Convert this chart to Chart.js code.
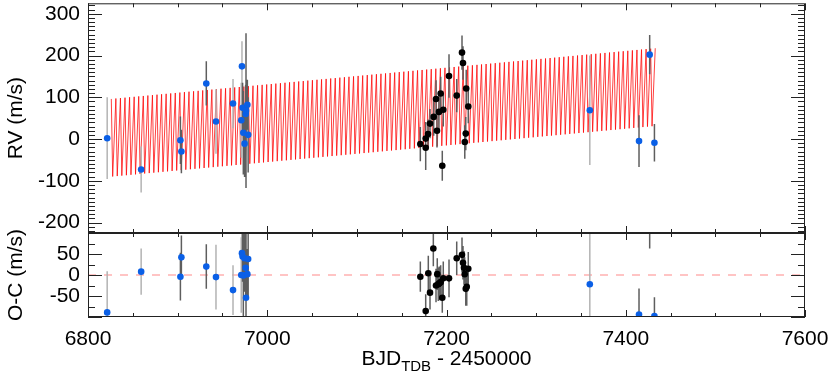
<!DOCTYPE html>
<html>
<head>
<meta charset="utf-8">
<script src="https://cdn.jsdelivr.net/npm/chart.js@4/dist/chart.umd.min.js"></script>
<style>
  html, body { margin: 0; padding: 0; background: #fff; }
  #wrap { position: relative; width: 830px; height: 377px; }
  #wrap canvas { position: absolute; left: 0; top: 0; }
</style>
</head>
<body>
<div id="wrap">
  <canvas id="rvChart" width="830" height="377"></canvas>
  <canvas id="ocChart" width="830" height="377"></canvas>
</div>
<script>
// Blue points with light grey error bars
const blueLightTime = [6821.4, 6859.3, 6942.8, 6961.8, 6971.0, 6971.8, 7359.9];
const blueLightRV   = [2, -73, 42, 85, 45, 174, 69];
const blueLightErr  = [98, 55, 77, 59, 90, 60, 131];
const blueLightOC   = [-89, 8, -5, -36, 0, 52, -22];

// Blue points with dark grey error bars
const blueDarkTime = [6903.1, 6904.2, 6932.0, 6972.5, 6973.3, 6974.7, 6975.9, 6976.3, 6977.8, 6978.7, 7414.8, 7426.7, 7432.0];
const blueDarkRV   = [-3, -30, 133, 75, 15, -11, 60, 68, 82, 10, -5, 202, -9];
const blueDarkErr  = [57, 52, 53, 60, 100, 80, 70, 185, 60, 90, 62, 47, 45];
const blueDarkOC   = [-4, 42, 20, 44, -1, 40, 17, -54, 2, 38, -94, 110, -98];

// Black points
const blackTime = [7170.8, 7176.8, 7176.8, 7179.4, 7181.6, 7185.7, 7188.3, 7189.4, 7191.6, 7193.5,
                   7195.3, 7196.4, 7202.8, 7211.4, 7217.3, 7218.4, 7220.4, 7221.5, 7222.0, 7224.3];
const blackRV   = [-12, 1, -21, 12, 37, 53, 96, 20, 65, 109, -64, 70, 151, 104, 207, 182, -7, 13, 121, 78];
const blackErr  = [41, 40, 53, 35, 35, 45, 45, 40, 45, 40, 36, 40, 52, 40, 41, 40, 40, 40, 45, 40];

// Black O-C residuals
const blackOCTime = [7170.8, 7176.8, 7179.7, 7181.6, 7185.3, 7188.3, 7189.7, 7190.8, 7191.9, 7193.5, 7195.3,
                     7196.4, 7202.8, 7211.4, 7217.3, 7218.4, 7219.5, 7220.3, 7221.5, 7222.6, 7224.3];
const blackOC    = [-4, -86, 4, -42, 63, -25, 2, -22, -20, -17, -54, -8, -8, 40, 48, 29, 17, 2, -33, -28, 15];
const blackOCErr = [36, 40, 42, 40, 42, 40, 38, 40, 40, 40, 36, 40, 45, 40, 41, 40, 40, 40, 40, 45, 40];

// Model parameters
const modelStart = 6826;
const modelEnd = 7433;
const modelPeriod = 5.1;
const modelFall = 0.3;     // fraction of the period spent going from peak to trough
const modelK = 93;
const modelGamma = 3;
const modelSlope = 0.2;

const xMin = 6800, xMax = 7600;
const FONT = '"Liberation Sans", Arial, Helvetica, sans-serif';

function pts(t, v) { return t.map((tt, i) => ({ x: tt, y: v[i] })); }

const modelPoints = [];
for (let c = 0; modelStart + c * modelPeriod <= modelEnd; c++) {
  const tPeak = modelStart + c * modelPeriod;
  const tLow = tPeak + modelFall * modelPeriod;
  modelPoints.push({ x: tPeak, y: modelGamma + modelSlope * (tPeak - modelStart) + modelK });
  if (tLow <= modelEnd) {
    modelPoints.push({ x: tLow, y: modelGamma + modelSlope * (tLow - modelStart) - modelK });
  }
}

// error bars drawn right after the background dataset (index 0)
const errorBars = {
  id: 'errorBars',
  afterDatasetDraw(chart, args) {
    if (args.index !== 0) return;
    const { ctx, chartArea: a, scales: { x, y } } = chart;
    ctx.save();
    ctx.beginPath();
    ctx.rect(a.left, a.top, a.right - a.left, a.bottom - a.top);
    ctx.clip();
    ctx.lineWidth = 1.5;
    chart.data.datasets.forEach(ds => {
      if (!ds.errors) return;
      ctx.strokeStyle = ds.errorColor;
      ctx.beginPath();
      ds.data.forEach((p, i) => {
        const px = x.getPixelForValue(p.x);
        ctx.moveTo(px, y.getPixelForValue(p.y + ds.errors[i]));
        ctx.lineTo(px, y.getPixelForValue(p.y - ds.errors[i]));
      });
      ctx.stroke();
    });
    ctx.restore();
  }
};

// box with inward ticks on all four sides
const frame = {
  id: 'frame',
  afterDraw(chart, args, opts) {
    const { ctx, chartArea: a, scales: { x, y } } = chart;
    ctx.save();
    ctx.strokeStyle = '#222';
    ctx.lineWidth = 1;
    ctx.strokeRect(a.left + 0.5, a.top + 0.5, a.right - a.left - 1, a.bottom - a.top - 1);
    ctx.beginPath();
    const k0 = Math.ceil(y.min / opts.yMinor), k1 = Math.floor(y.max / opts.yMinor);
    for (let k = k0; k <= k1; k++) {
      const v = k * opts.yMinor;
      const py = Math.round(y.getPixelForValue(v)) + 0.5;
      const len = v % opts.yMajor === 0 ? 14 : 7;
      ctx.moveTo(a.left, py); ctx.lineTo(a.left + len, py);
      ctx.moveTo(a.right, py); ctx.lineTo(a.right - len, py);
    }
    for (let v = xMin; v <= xMax; v += 50) {
      const px = Math.round(x.getPixelForValue(v)) + 0.5;
      const len = v % 200 === 0 ? 7 : 4;
      ctx.moveTo(px, a.top); ctx.lineTo(px, a.top + len);
      ctx.moveTo(px, a.bottom); ctx.lineTo(px, a.bottom - len);
    }
    ctx.stroke();
    ctx.restore();
  }
};

// x title with subscript
const xTitle = {
  id: 'xTitle',
  afterDraw(chart) {
    const { ctx, chartArea: a } = chart;
    const main = 'BJD', sub = 'TDB', rest = ' - 2450000';
    ctx.save();
    ctx.fillStyle = '#000';
    ctx.textBaseline = 'alphabetic';
    ctx.textAlign = 'left';
    ctx.font = '21px ' + FONT;
    const w1 = ctx.measureText(main).width, w3 = ctx.measureText(rest).width;
    ctx.font = '15px ' + FONT;
    const w2 = ctx.measureText(sub).width;
    let xx = (a.left + a.right) / 2 - (w1 + w2 + w3) / 2;
    const base = 365;
    ctx.font = '21px ' + FONT;
    ctx.fillText(main, xx, base);
    xx += w1;
    ctx.font = '15px ' + FONT;
    ctx.fillText(sub, xx, base + 6);
    xx += w2;
    ctx.font = '21px ' + FONT;
    ctx.fillText(rest, xx, base);
    ctx.restore();
  }
};

function scatterSet(data, color, errors, errorColor) {
  return {
    type: 'scatter', data: data, errors: errors, errorColor: errorColor,
    backgroundColor: color, borderWidth: 0, pointRadius: 3.3, pointHoverRadius: 3.3, order: 0
  };
}

function yAxis(min, max, step, title, labelFn) {
  return {
    type: 'linear', min: min, max: max,
    grid: { display: false, drawTicks: false },
    border: { display: false },
    ticks: { stepSize: step, includeBounds: false, autoSkip: false, padding: 8, color: '#000', font: { family: FONT, size: 21 }, callback: labelFn },
    title: { display: true, text: title, color: '#000', font: { family: FONT, size: 21 }, padding: { top: 4, bottom: 0 } },
    afterFit(scale) { scale.width = 88; scale.paddingTop = 0; scale.paddingBottom = 0; }
  };
}

const common = {
  responsive: false,
  animation: false,
  events: [],
  plugins: { legend: { display: false }, tooltip: { enabled: false } }
};

new Chart(document.getElementById('rvChart'), {
  type: 'scatter',
  data: {
    datasets: [
      { type: 'line', data: modelPoints, borderColor: 'rgba(255,0,0,0.75)', borderWidth: 1, pointRadius: 0, fill: false, tension: 0, order: 2 },
      scatterSet(pts(blueLightTime, blueLightRV), '#0a5fe6', blueLightErr, '#b3b3b3'),
      scatterSet(pts(blueDarkTime, blueDarkRV), '#0a5fe6', blueDarkErr, '#5e5e5e'),
      scatterSet(pts(blackTime, blackRV), '#000000', blackErr, '#5e5e5e')
    ]
  },
  options: {
    ...common,
    layout: { padding: { left: 0, right: 25, top: 1, bottom: 144 } },
    plugins: { ...common.plugins, frame: { yMinor: 10, yMajor: 100 } },
    scales: {
      x: { type: 'linear', min: xMin, max: xMax, display: false },
      y: yAxis(-225, 325, 100, 'RV (m/s)', v => (v % 100 === 0 ? String(v) : ''))
    }
  },
  plugins: [errorBars, frame]
});

new Chart(document.getElementById('ocChart'), {
  type: 'scatter',
  data: {
    datasets: [
      { type: 'line', data: [{ x: xMin, y: 0 }, { x: xMax, y: 0 }], borderColor: 'rgba(255,150,150,0.75)', borderWidth: 1.5, borderDash: [8, 8], pointRadius: 0, fill: false, order: 2 },
      scatterSet(pts(blueLightTime, blueLightOC), '#0a5fe6', blueLightErr, '#b3b3b3'),
      scatterSet(pts(blueDarkTime, blueDarkOC), '#0a5fe6', blueDarkErr, '#5e5e5e'),
      scatterSet(pts(blackOCTime, blackOC), '#000000', blackOCErr, '#5e5e5e')
    ]
  },
  options: {
    ...common,
    layout: { padding: { left: 0, right: 25, top: 233, bottom: 0 } },
    plugins: { ...common.plugins, frame: { yMinor: 25, yMajor: 50 } },
    scales: {
      x: {
        type: 'linear', min: xMin, max: xMax,
        grid: { display: false, drawTicks: false },
        border: { display: false },
        ticks: { stepSize: 200, autoSkip: false, maxRotation: 0, padding: 10, color: '#000', font: { family: FONT, size: 21 }, callback: v => String(v) },
        afterFit(scale) { scale.height = 60; scale.paddingLeft = 0; scale.paddingRight = 0; }
      },
      y: yAxis(-100, 100, 50, 'O-C (m/s)', v => (Math.abs(v) === 100 ? '' : String(v)))
    }
  },
  plugins: [errorBars, frame, xTitle]
});
</script>
</body>
</html>
